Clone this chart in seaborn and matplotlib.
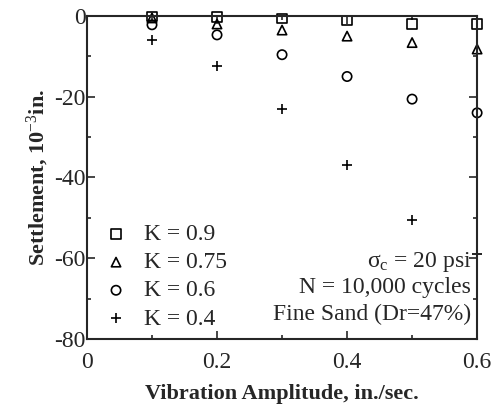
import numpy as np
import pandas as pd
import matplotlib
matplotlib.use('Agg')
import matplotlib.pyplot as plt
import seaborn as sns
from matplotlib.ticker import MultipleLocator, FuncFormatter

# data
amplitude = [0.1, 0.2, 0.3, 0.4, 0.5, 0.6]
k_labels = ['K = 0.9', 'K = 0.75', 'K = 0.6', 'K = 0.4']
settle_09 = [-0.2, -0.3, -0.7, -1.2, -2.0, -2.0]
settle_075 = [-0.5, -2.0, -3.5, -5.0, -6.6, -8.2]
settle_06 = [-2.2, -4.7, -9.6, -15.0, -20.6, -24.0]
settle_04 = [-6.0, -12.5, -23.0, -37.0, -50.5, -59.0]
markers = ['s', '^', 'o', '+']

sns.set_style('ticks')
plt.rcParams['font.family'] = ['Liberation Serif', 'DejaVu Serif']
plt.rcParams['mathtext.fontset'] = 'custom'
plt.rcParams['mathtext.rm'] = 'Liberation Serif'
plt.rcParams['mathtext.it'] = 'Liberation Serif'
plt.rcParams['axes.unicode_minus'] = False

rows = []
for lab, vals in zip(k_labels, [settle_09, settle_075, settle_06, settle_04]):
    for x, y in zip(amplitude, vals):
        rows.append({'amp': x, 'settle': y, 'K': lab})
df = pd.DataFrame(rows)

fig = plt.figure(figsize=(4.97, 4.08), dpi=100)
ax = fig.add_axes([0.175, 0.169, 0.785, 0.792])

for lab, m in zip(k_labels, markers):
    sub = df[df['K'] == lab]
    if m == '+':
        sns.scatterplot(data=sub, x='amp', y='settle', marker='+', color='k',
                        s=60, linewidth=1.2, ax=ax, label=lab, clip_on=False)
    else:
        sns.scatterplot(data=sub, x='amp', y='settle', marker=m, facecolor='none',
                        edgecolor='k', s=45, linewidth=1.2, ax=ax, label=lab, clip_on=False)

ax.set_xlim(0, 0.6)
ax.set_ylim(-80, 0)
ax.xaxis.set_major_locator(MultipleLocator(0.2))
ax.xaxis.set_minor_locator(MultipleLocator(0.1))
ax.yaxis.set_major_locator(MultipleLocator(20))
ax.yaxis.set_minor_locator(MultipleLocator(10))
fmt = FuncFormatter(lambda v, p: '%g' % round(v, 3) if abs(v) > 1e-9 else '0')
ax.xaxis.set_major_formatter(fmt)
ax.yaxis.set_major_formatter(fmt)
ax.tick_params(which='both', direction='in', top=True, right=True, labelsize=17, width=1.2)
ax.tick_params(axis='y', pad=1)
ax.tick_params(axis='x', pad=9)
ax.tick_params(which='major', length=6)
ax.tick_params(which='minor', length=3)
for sp in ax.spines.values():
    sp.set_linewidth(1.5)

ax.set_xlabel('Vibration Amplitude, in./sec.', fontsize=16, fontweight='bold', labelpad=8)
ax.set_ylabel('Settlement, 10$^{-3}$in.', fontsize=16, fontweight='bold', labelpad=2)

ax.legend(loc='lower left', bbox_to_anchor=(0.02, 0.0), frameon=False, fontsize=17,
          handletextpad=0.7, labelspacing=0.28, borderaxespad=0.2, handlelength=1.0,
          borderpad=0.2)

ax.text(0.985, 0.238, r'$\sigma_c$ = 20 psi', transform=ax.transAxes, ha='right', va='center', fontsize=17)
ax.text(0.985, 0.158, 'N = 10,000 cycles', transform=ax.transAxes, ha='right', va='center', fontsize=17)
ax.text(0.985, 0.077, 'Fine Sand (Dr=47%)', transform=ax.transAxes, ha='right', va='center', fontsize=17)

fig.savefig('out.png', dpi=100)
